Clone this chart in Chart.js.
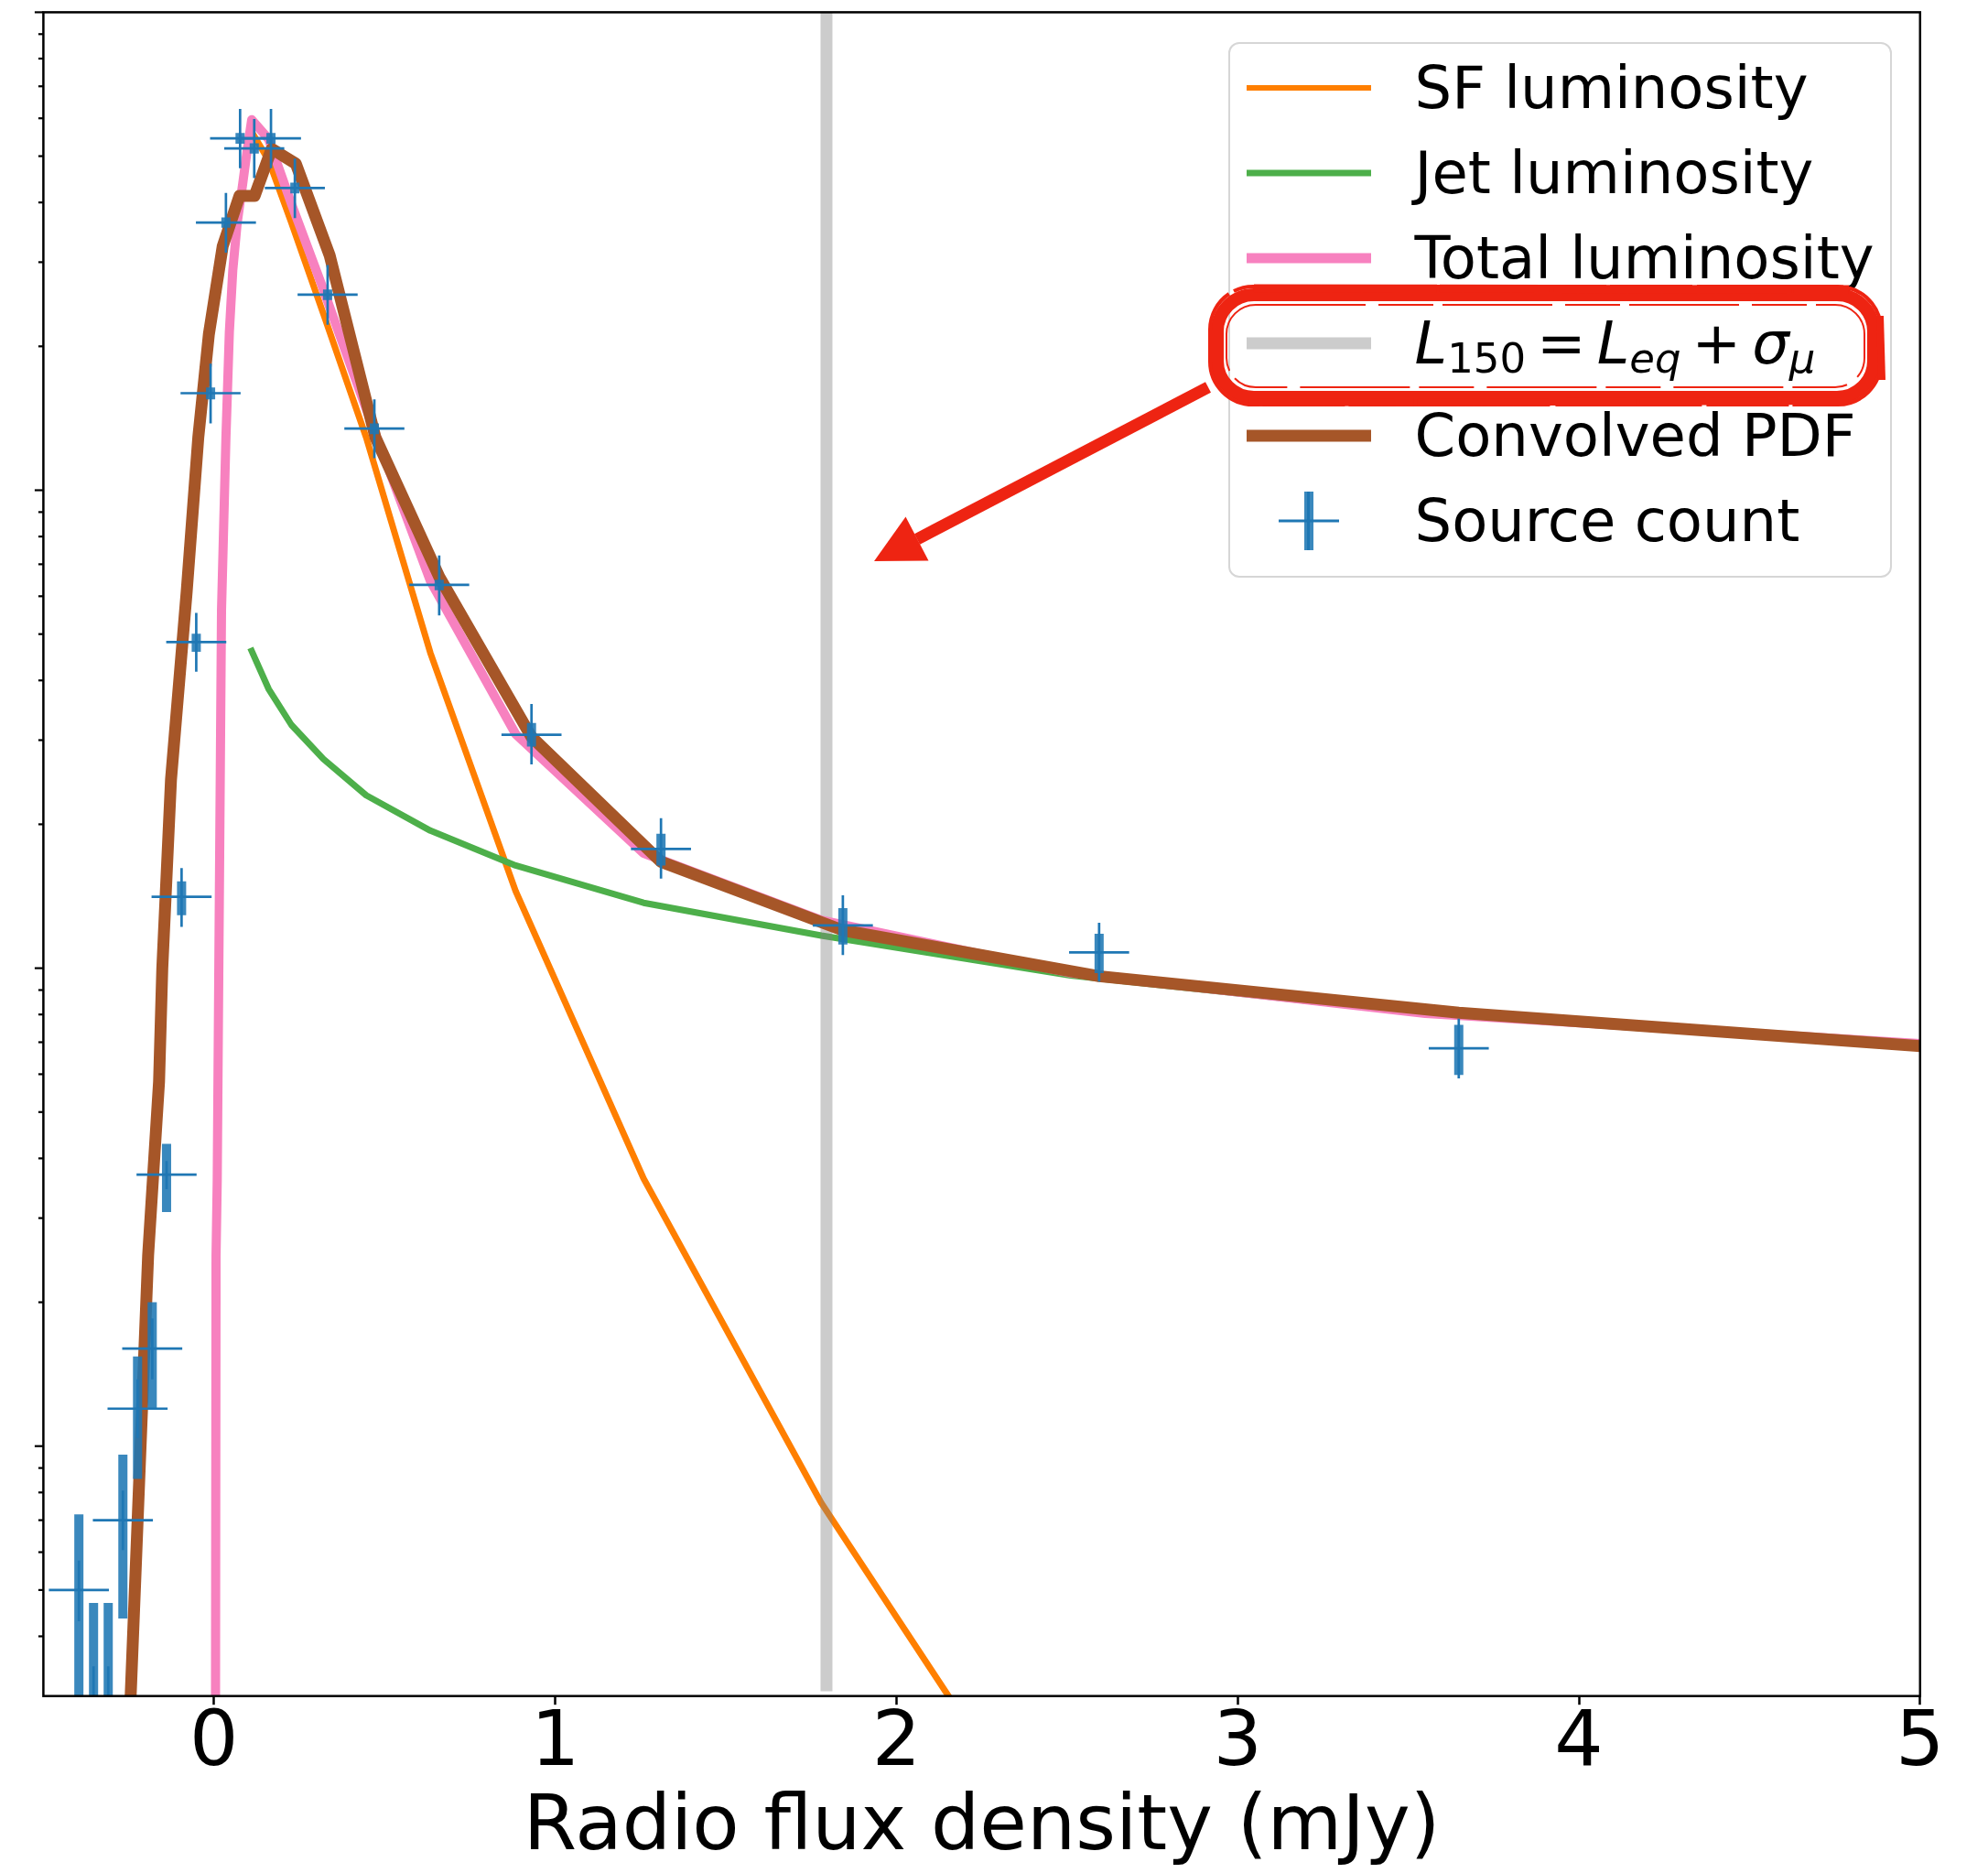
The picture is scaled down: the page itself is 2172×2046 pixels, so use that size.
<!DOCTYPE html>
<html>
<head>
<meta charset="utf-8">
<script src="https://cdn.jsdelivr.net/npm/chart.js@4.4.0/dist/chart.umd.min.js"></script>
<style>
  html, body { margin: 0; padding: 0; background: #fff; }
  #wrap { position: relative; width: 2172px; height: 2046px; }
  #chart { position: absolute; left: 0; top: 0; }
  #legend {
    position: absolute; left: 1342px; top: 46px; width: 725px; height: 585px;
    box-sizing: border-box; border: 2.5px solid #d6d6d6; border-radius: 12px;
    background: rgba(255,255,255,0.8);
    font-family: 'DejaVu Sans'; font-size: 64px; color: #000;
  }
  .row { position: absolute; left: 0; width: 100%; height: 0; }
  .h { position: absolute; left: 17.5px; width: 136px; transform: translateY(-50%); }
  .t { position: absolute; left: 201.5px; top: 0; transform: translateY(-50%); line-height: 1; white-space: nowrap; }
  .t sub { font-size: 45px; vertical-align: -10px; line-height: 0; }
  .op { margin: 0 12px; }
  #note { position: absolute; left: 0; top: 0; pointer-events: none; }
</style>
</head>
<body>
<div id="wrap">
  <canvas id="chart" width="2172" height="2046"></canvas>
  <div id="legend">
    <div class="row" style="top:47.8px"><span class="h" style="height:6px;background:#ff7f00"></span><span class="t">SF luminosity</span></div>
    <div class="row" style="top:140.7px"><span class="h" style="height:7px;background:#4daf4a"></span><span class="t">Jet luminosity</span></div>
    <div class="row" style="top:234.1px"><span class="h" style="height:11px;background:#f781bf"></span><span class="t">Total luminosity</span></div>
    <div class="row" style="top:327.4px"><span class="h" style="height:13px;background:#cccccc"></span><span class="t"><i>L</i><sub>150</sub><span class="op">=</span><i>L</i><sub><i>eq</i></sub><span class="op">+</span><i>σ</i><sub><i>μ</i></sub></span></div>
    <div class="row" style="top:428.2px"><span class="h" style="height:13px;background:#a65628"></span><span class="t">Convolved PDF</span></div>
    <div class="row" style="top:521.1px">
      <span class="h" style="left:80.5px;width:10px;height:64px;background:rgba(31,119,180,0.88)"></span>
      <span class="h" style="left:84.3px;width:2.5px;height:64px;background:#1f77b4"></span>
      <span class="h" style="left:52.5px;width:66px;height:3px;background:#1f77b4"></span>
      <span class="t">Source count</span>
    </div>
  </div>
  <svg id="note" width="2172" height="2046" xmlns="http://www.w3.org/2000/svg">
    <g fill="none" stroke="#ee2412" stroke-linejoin="round">
      <rect x="1330" y="322" width="717" height="112" rx="40" stroke-width="14"/>
      <rect x="1322" y="313" width="733" height="129" rx="47" stroke-width="4" stroke-dasharray="160 6 220 4 90 5"/>
      <rect x="1340" y="333" width="697" height="90" rx="32" stroke-width="2" stroke-dasharray="120 14 60 10"/>
      <path d="M1370 315 L2020 316" stroke-width="9" stroke-dasharray="200 3 120 5 260 2"/>
      <path d="M1365 440 L2020 438" stroke-width="8" stroke-dasharray="180 4 240 3 150 5"/>
      <path d="M2054 345 L2056 415" stroke-width="8"/>
      <line x1="1320" y1="423" x2="1002" y2="589" stroke-width="13"/>
    </g>
    <polygon points="955,613 989.5,564.5 1014.5,612.5" fill="#ee2412"/>
  </svg>
</div>
<script>
Chart.defaults.font.family = "'DejaVu Sans'";
Chart.defaults.color = '#000';

// axis ranges and ticks
const xMin = -0.5, xMax = 5;
const yMin = 0.316, yMax = 1000;
const xTicks = [0, 1, 2, 3, 4, 5];
const yMajorTicks = [1, 10, 100, 1000];
const yMinorTicks = [0.4, 0.5, 0.6, 0.7, 0.8, 0.9, 2, 3, 4, 5, 6, 7, 8, 9,
  20, 30, 40, 50, 60, 70, 80, 90, 200, 300, 400, 500, 600, 700, 800, 900];

// L150 = Leq + sigma_mu threshold (mJy)
const lEqSigma = 1.795;

// SF luminosity
const sfX = [0.003, 0.0045, 0.006, 0.0095, 0.022, 0.035, 0.045, 0.055, 0.068, 0.084, 0.097,
  0.1105, 0.16, 0.2266, 0.3206, 0.446, 0.634, 0.884, 1.259, 1.78, 2.51, 3.55];
const sfY = [0.03, 0.316, 2.5, 3.6, 56, 129, 214, 288, 363, 437, 513,
  562, 490, 363, 234, 129, 45.7, 14.5, 3.63, 0.76, 0.123, 0.016];

// Jet luminosity
const jetX = [0.1105, 0.16, 0.2266, 0.3206, 0.446, 0.634, 0.884, 1.259, 1.78, 2.51, 3.55, 5.0];
const jetY = [46.1, 38.4, 32.3, 27.4, 23.0, 19.4, 16.4, 13.7, 11.7, 9.66, 8.04, 6.84];

// Total luminosity
const totX = [0.003, 0.0045, 0.006, 0.0095, 0.022, 0.035, 0.045, 0.055, 0.068, 0.084, 0.097,
  0.1105, 0.16, 0.2266, 0.3206, 0.446, 0.634, 0.884, 1.259, 1.78, 2.51, 3.55, 5.0];
const totY = [0.03, 0.316, 2.5, 3.6, 56, 129, 214, 288, 363, 437, 513,
  596, 543, 398, 263, 148, 64.6, 30.9, 17.4, 12.6, 9.77, 8.04, 6.95];

// Convolved PDF
const convX = [-0.27, -0.243, -0.193, -0.161, -0.1515, -0.126, -0.08, -0.046, -0.015, 0.0255,
  0.0748, 0.119, 0.169, 0.240, 0.339, 0.473, 0.660, 0.930, 1.310, 1.843, 2.594, 3.648, 5.15];
const convY = [0.1, 0.316, 2.51, 5.79, 10.0, 24.8, 61.4, 129, 212, 324,
  413, 413, 518, 482, 310, 129, 65.9, 30.5, 16.7, 12.0, 9.62, 8.07, 6.75];

// Source count with two sets of error bars
const countX = [-0.396, -0.353, -0.310, -0.267, -0.224, -0.181, -0.139, -0.095, -0.052, -0.010,
  0.035, 0.0765, 0.118, 0.167, 0.237, 0.333, 0.470, 0.660, 0.9305, 1.31, 1.843, 2.594, 3.648];
const countY = [0.50, 0.25, 0.25, 0.70, 1.198, 1.60, 3.70, 14.1, 48.1, 159.6,
  363, 545, 519, 545, 429, 256.5, 134.6, 63.4, 30.8, 17.76, 12.29, 10.79, 6.80];
const countErrX = 0.088;
const thinLo = [0.43, 0.15, 0.15, 0.606, 1.04, 1.38, 3.45, 12.2, 41.7, 138,
  314, 472, 450, 472, 371, 222, 116.7, 54.7, 26.7, 15.4, 10.65, 9.37, 5.88];
const thinHi = [0.576, 0.346, 0.346, 0.807, 1.38, 1.85, 3.95, 16.2, 55.4, 184,
  419, 628, 598, 628, 494, 296, 155, 73, 35.7, 20.6, 14.2, 12.45, 7.84];
const thickLo = [0.1, 0.1, 0.1, 0.436, 0.854, 1.20, 3.09, 12.9, 45.9, 155,
  354, 531, 506, 531, 418, 250, 131, 61.8, 29.1, 16.4, 11.21, 9.76, 5.98];
const thickHi = [0.72, 0.47, 0.47, 0.96, 1.54, 2.0, 4.29, 15.2, 50.1, 164,
  372, 559, 532, 559, 440, 263, 138, 65, 32.6, 19.1, 13.36, 11.81, 7.61];

const pts = (xs, ys) => xs.map((x, i) => ({ x, y: ys[i] }));

function lineSet(label, xs, ys, color, width, order) {
  return {
    label, data: pts(xs, ys), borderColor: color, borderWidth: width,
    showLine: true, pointRadius: 0, tension: 0, fill: false, clip: 0, order,
    borderCapStyle: 'square', borderJoinStyle: 'round'
  };
}

function seg(ctx, x1, y1, x2, y2) {
  ctx.beginPath(); ctx.moveTo(x1, y1); ctx.lineTo(x2, y2); ctx.stroke();
}

const framePlugin = {
  id: 'frame',
  afterDatasetsDraw(chart) {
    const { ctx, chartArea: a, scales: { x, y } } = chart;
    ctx.save();
    ctx.beginPath();
    ctx.rect(a.left, a.top, a.right - a.left, a.bottom - a.top);
    ctx.clip();
    ctx.lineCap = 'butt';
    countX.forEach((cx, i) => {
      const px = x.getPixelForValue(cx);
      ctx.strokeStyle = 'rgba(31,119,180,0.88)';
      ctx.lineWidth = 10;
      seg(ctx, px, y.getPixelForValue(thickLo[i]), px, y.getPixelForValue(thickHi[i]));
      ctx.strokeStyle = '#1f77b4';
      ctx.lineWidth = 2.7;
      seg(ctx, px, y.getPixelForValue(thinLo[i]), px, y.getPixelForValue(thinHi[i]));
      const py = y.getPixelForValue(countY[i]);
      seg(ctx, x.getPixelForValue(cx - countErrX), py, x.getPixelForValue(cx + countErrX), py);
    });
    ctx.restore();
  },
  afterDraw(chart) {
    const { ctx, chartArea: a, scales: { y } } = chart;
    ctx.save();
    ctx.strokeStyle = '#000';
    ctx.lineWidth = 2.2;
    yMajorTicks.forEach(v => {
      const py = y.getPixelForValue(v);
      seg(ctx, a.left - 9.5, py, a.left, py);
    });
    yMinorTicks.forEach(v => {
      const py = y.getPixelForValue(v);
      seg(ctx, a.left - 5.5, py, a.left, py);
    });
    ctx.lineWidth = 2.5;
    ctx.strokeRect(a.left, a.top, a.right - a.left, a.bottom - a.top);
    ctx.restore();
  }
};

new Chart(document.getElementById('chart'), {
  type: 'scatter',
  data: {
    datasets: [
      lineSet('SF luminosity', sfX, sfY, '#ff7f00', 7, 6),
      lineSet('Jet luminosity', jetX, jetY, '#4daf4a', 7, 5),
      lineSet('L150', [lEqSigma, lEqSigma], [yMin, yMax], 'rgba(128,128,128,0.4)', 13, 4),
      lineSet('Total luminosity', totX, totY, '#f781bf', 10, 3),
      lineSet('Convolved PDF', convX, convY, '#a65628', 13, 2)
    ]
  },
  options: {
    responsive: false,
    animation: false,
    layout: { padding: { left: 0, top: 13.4, right: 74.2, bottom: 0 } },
    plugins: { legend: { display: false }, tooltip: { enabled: false } },
    scales: {
      x: {
        type: 'linear', min: xMin, max: xMax,
        afterBuildTicks: s => { s.ticks = xTicks.map(v => ({ value: v })); },
        afterFit: s => { s.height = 193.3; },
        grid: { drawOnChartArea: false, drawTicks: true, tickLength: 9.5, tickWidth: 2.5, tickColor: '#000' },
        border: { display: false },
        ticks: { font: { size: 84, lineHeight: 1 }, padding: 2, color: '#000', maxRotation: 0 },
        title: { display: true, text: 'Radio flux density (mJy)', font: { size: 84, lineHeight: 1 }, padding: { top: 0, bottom: 6 }, color: '#000' }
      },
      y: {
        type: 'logarithmic', min: yMin, max: yMax,
        afterFit: s => { s.width = 47.4; },
        grid: { display: false },
        border: { display: false },
        ticks: { display: false }
      }
    }
  },
  plugins: [framePlugin]
});
</script>
</body>
</html>
